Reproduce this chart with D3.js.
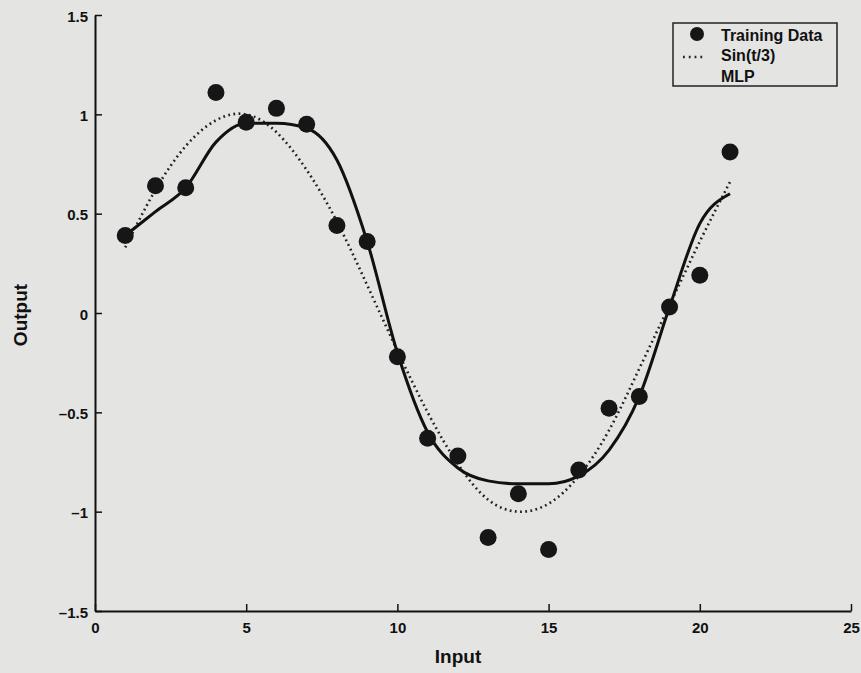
<!DOCTYPE html>
<html>
<head>
<meta charset="utf-8">
<script src="https://cdn.jsdelivr.net/npm/d3@7"></script>
<style>
  body { margin: 0; background: #e4e4e2; }
  svg { display: block; }
  text { font-family: "Liberation Sans", Arial, sans-serif; font-weight: bold; fill: #111; }
</style>
</head>
<body>
<div class="container"></div>
<script>
'use strict';

// Values
const inputs = [1, 2, 3, 4, 5, 6, 7, 8, 9, 10, 11, 12, 13, 14, 15, 16, 17, 18, 19, 20, 21];
const trainingData = [0.39, 0.64, 0.63, 1.11, 0.96, 1.03, 0.95, 0.44, 0.36, -0.22, -0.63,
  -0.72, -1.13, -0.91, -1.19, -0.79, -0.48, -0.42, 0.03, 0.19, 0.81];
const sinValues = [0.33, 0.62, 0.84, 0.97, 1.00, 0.91, 0.72, 0.46, 0.14, -0.19, -0.50,
  -0.76, -0.94, -1.00, -0.96, -0.82, -0.59, -0.28, 0.04, 0.36, 0.66];
const mlpValues = [0.39, 0.51, 0.63, 0.86, 0.955, 0.955, 0.93, 0.77, 0.36, -0.20, -0.60,
  -0.78, -0.845, -0.86, -0.86, -0.82, -0.69, -0.42, 0.03, 0.45, 0.60];
const xTicks = [0, 5, 10, 15, 20, 25];
const yTicks = [-1.5, -1, -0.5, 0, 0.5, 1, 1.5];
const legendLabels = ["Training Data", "Sin(t/3)", "MLP"];

const width = 861;
const height = 673;

const svg = d3.select("div.container").append("svg")
    .attr("width", width)
    .attr("height", height);

const x = d3.scaleLinear().domain([0, 25]).range([95, 851]);
const y = d3.scaleLinear().domain([-1.5, 1.5]).range([611, 15]);

const fmt = d => (d < 0 ? "\u2013" : "") + d3.format("")(Math.abs(d));

// axes, ticks pointing inwards
const xAxis = svg.append("g")
    .attr("transform", "translate(0," + y(-1.5) + ")")
    .call(d3.axisBottom(x).tickValues(xTicks).tickSizeInner(-7).tickSizeOuter(0).tickPadding(11).tickFormat(fmt));
const yAxis = svg.append("g")
    .attr("transform", "translate(" + x(0) + ",0)")
    .call(d3.axisLeft(y).tickValues(yTicks).tickSizeInner(-7).tickSizeOuter(0).tickPadding(7).tickFormat(fmt));

[xAxis, yAxis].forEach(function (g) {
  g.selectAll("path.domain").attr("stroke", "#111").attr("stroke-width", 2);
  g.selectAll(".tick line").attr("stroke", "#111").attr("stroke-width", 1.5);
  g.selectAll(".tick text")
      .style("font-family", "'Liberation Sans', Arial, sans-serif")
      .style("font-weight", "bold")
      .style("font-size", "15px")
      .attr("fill", "#111");
});
yAxis.selectAll(".tick text").attr("dy", "0.42em");

svg.append("text")
    .attr("x", 458).attr("y", 663)
    .attr("text-anchor", "middle")
    .style("font-size", "19px")
    .text("Input");

svg.append("text")
    .attr("transform", "translate(27,315) rotate(-90)")
    .attr("text-anchor", "middle")
    .style("font-size", "19px")
    .text("Output");

// lines
const sinLine = d3.line()
    .x(d => x(d[0]))
    .y(d => y(d[1]))
    .curve(d3.curveNatural);
const mlpLine = d3.line()
    .x(d => x(d[0]))
    .y(d => y(d[1]))
    .curve(d3.curveMonotoneX);

svg.append("path")
    .datum(inputs.map((t, i) => [t, sinValues[i]]))
    .attr("d", sinLine)
    .attr("fill", "none")
    .attr("stroke", "#222")
    .attr("stroke-width", 2.6)
    .attr("stroke-dasharray", "1.8 3.4");

svg.append("path")
    .datum(inputs.map((t, i) => [t, mlpValues[i]]))
    .attr("d", mlpLine)
    .attr("fill", "none")
    .attr("stroke", "#111")
    .attr("stroke-width", 3);

svg.selectAll("circle.train")
    .data(inputs.map((t, i) => [t, trainingData[i]]))
    .enter()
    .append("circle")
    .attr("class", "train")
    .attr("cx", d => x(d[0]))
    .attr("cy", d => y(d[1]))
    .attr("r", 8.5)
    .attr("fill", "#161616");

// legend
const legend = svg.append("g").attr("transform", "translate(673,23)");
legend.append("rect")
    .attr("width", 164).attr("height", 63)
    .attr("fill", "none")
    .attr("stroke", "#222")
    .attr("stroke-width", 1.5);

legend.selectAll("text.lab")
    .data(legendLabels)
    .enter()
    .append("text")
    .attr("class", "lab")
    .attr("x", 48)
    .attr("y", (d, i) => 12 + i * 20.5)
    .attr("dy", "0.36em")
    .style("font-size", "16px")
    .text(d => d);

legend.append("circle")
    .attr("cx", 24).attr("cy", 11).attr("r", 7)
    .attr("fill", "#161616");
legend.append("line")
    .attr("x1", 10).attr("x2", 33)
    .attr("y1", 34).attr("y2", 34)
    .attr("stroke", "#222")
    .attr("stroke-width", 2.4)
    .attr("stroke-dasharray", "1.8 4");
</script>
</body>
</html>
